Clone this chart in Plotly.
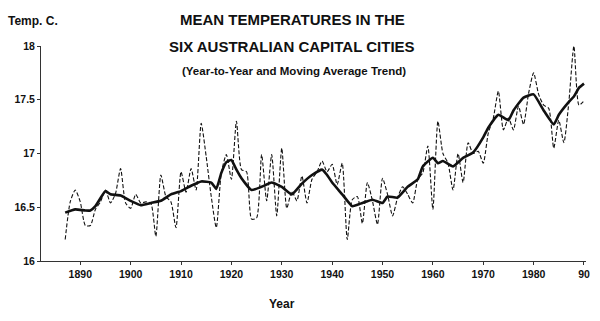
import plotly.graph_objects as go

years = list(range(1887, 1991))
annual_temp = [
    16.20, 16.55, 16.66, 16.55, 16.33, 16.33, 16.48, 16.55, 16.66, 16.54,  # 1887-1896
    16.63, 16.86, 16.54, 16.49, 16.62, 16.54, 16.55, 16.54, 16.23, 16.80,  # 1897-1906
    16.60, 16.55, 16.31, 16.83, 16.64, 16.86, 16.66, 17.28, 16.97, 16.60,  # 1907-1916
    16.31, 16.82, 16.99, 16.76, 17.30, 16.85, 16.83, 16.39, 16.40, 16.99,  # 1917-1926
    16.56, 16.99, 16.42, 17.05, 16.49, 16.65, 16.56, 16.79, 16.54, 16.76,  # 1927-1936
    16.83, 16.93, 16.83, 16.90, 16.71, 16.91, 16.20, 16.57, 16.60, 16.35,  # 1937-1946
    16.73, 16.56, 16.34, 16.77, 16.62, 16.42, 16.59, 16.69, 16.62, 16.54,  # 1947-1956
    16.76, 16.82, 17.07, 16.48, 17.30, 17.00, 16.91, 16.66, 17.00, 16.73,  # 1957-1966
    17.10, 17.00, 17.02, 16.91, 17.19, 17.33, 17.58, 17.22, 17.33, 17.22,  # 1967-1976
    17.44, 17.27, 17.56, 17.75, 17.55, 17.45, 17.42, 17.05, 17.31, 17.10,  # 1977-1986
    17.48, 18.00, 17.45, 17.49,                                            # 1987-1990
]

trend_years = [1887, 1889, 1891, 1892, 1893, 1895, 1896, 1898, 1900, 1902,
               1904, 1906, 1908, 1910, 1912, 1914, 1916, 1917, 1918, 1919,
               1920, 1921, 1922, 1924, 1926, 1928, 1930, 1932, 1934, 1936,
               1938, 1939, 1940, 1942, 1944, 1946, 1948, 1950, 1951, 1953,
               1955, 1957, 1958, 1960, 1961, 1962, 1964, 1966, 1968, 1970,
               1971, 1973, 1975, 1976, 1978, 1980, 1982, 1984, 1985, 1987,
               1988, 1989, 1990]
trend_temp = [16.45, 16.48, 16.47, 16.47, 16.51, 16.65, 16.62, 16.61, 16.56, 16.52,
              16.54, 16.56, 16.62, 16.65, 16.70, 16.74, 16.73, 16.67, 16.82, 16.92,
              16.94, 16.85, 16.77, 16.66, 16.69, 16.73, 16.69, 16.62, 16.72, 16.80,
              16.85, 16.80, 16.73, 16.62, 16.51, 16.54, 16.57, 16.54, 16.60, 16.59,
              16.69, 16.76, 16.88, 16.96, 16.91, 16.93, 16.88, 16.96, 17.01, 17.15,
              17.24, 17.36, 17.31, 17.40, 17.52, 17.55, 17.40, 17.27, 17.36, 17.48,
              17.53, 17.61, 17.65]

x_tickvals = [1890, 1900, 1910, 1920, 1930, 1940, 1950, 1960, 1970, 1980, 1990]
x_ticktext = ["1890", "1900", "1910", "1920", "1930", "1940", "1950", "1960", "1970", "1980", "90"]
y_tickvals = [16, 16.5, 17, 17.5, 18]
y_ticktext = ["16", "16.5", "17", "17.5", "18"]

FONT = "Liberation Sans Narrow, Arial Narrow, Liberation Sans, Arial, sans-serif"
SANS = "Liberation Sans, Arial, sans-serif"

fig = go.Figure()
fig.add_trace(go.Scatter(
    x=years, y=annual_temp, mode="lines",
    line=dict(color="#111111", width=1.1, dash="4px,2px", shape="spline", smoothing=0.6),
    showlegend=False, hoverinfo="skip"))
fig.add_trace(go.Scatter(
    x=trend_years, y=trend_temp, mode="lines",
    line=dict(color="#111111", width=2.6, shape="spline", smoothing=0.4),
    showlegend=False, hoverinfo="skip"))

axis_common = dict(showgrid=False, zeroline=False, showline=True, linecolor="#333333",
                   linewidth=1, ticks="outside", ticklen=3, tickcolor="#333333",
                   tickfont=dict(family=FONT, size=10.5, color="#111111"))

fig.update_layout(
    width=600, height=321,
    margin=dict(l=41, r=10, t=46, b=60),
    paper_bgcolor="white", plot_bgcolor="white",
    font=dict(family=FONT, color="#111111", size=11),
    xaxis=dict(range=[1882.2, 1990.4], tickvals=x_tickvals,
               ticktext=["<b>%s</b>" % t for t in x_ticktext], **axis_common),
    yaxis=dict(range=[16, 18], tickvals=y_tickvals,
               ticktext=["<b>%s</b>" % t for t in y_ticktext], **axis_common),
)

pw, ph = 600 - 41 - 10, 321 - 46 - 60
def px(x): return (x - 41) / pw
def py(y): return (321 - 60 - y) / ph

ann = [
    ("<b>MEAN TEMPERATURES IN THE</b>", 294, 20, 15, SANS),
    ("<b>SIX AUSTRALIAN CAPITAL CITIES</b>", 294, 46, 15, SANS),
    ("<b>(Year-to-Year and Moving Average Trend)</b>", 296, 71, 11.5, FONT),
    ("<b>Temp. C.</b>", 33, 21, 12, FONT),
    ("<b>Year</b>", 284, 304, 12, FONT),
]
for text, x, y, size, fam in ann:
    fig.add_annotation(text=text, x=px(x), y=py(y), xref="paper", yref="paper",
                       xanchor="center", yanchor="middle", showarrow=False,
                       font=dict(size=size, family=fam, color="#111111"))

fig.write_html("out.html")
